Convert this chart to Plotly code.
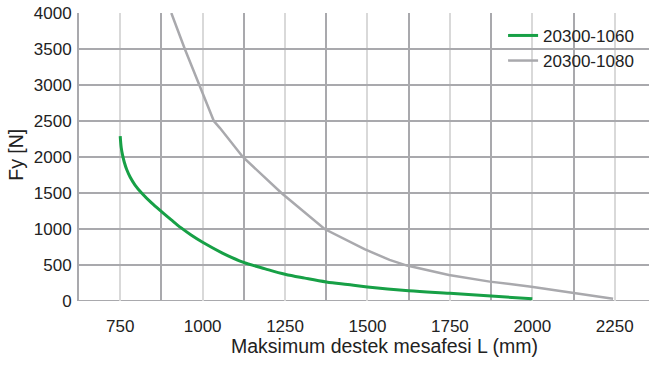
import plotly.graph_objects as go

# Series 20300-1060 (green)
l_1060 = [750, 753, 757, 762, 770, 780, 795, 815, 845, 877, 905, 935, 965, 1000, 1060, 1122, 1190, 1250, 1310, 1375, 1440, 1500, 1625, 1750, 1875, 2000]
fy_1060 = [2290, 2133, 2029, 1934, 1822, 1722, 1610, 1500, 1362, 1235, 1127, 1015, 916, 815, 666, 540, 447, 372, 318, 265, 228, 195, 143, 107, 70, 30]

# Series 20300-1080 (gray)
l_1080 = [905, 946, 990, 1034, 1052, 1122, 1239, 1370, 1491, 1567, 1620, 1747, 1871, 1997, 2121, 2245]
fy_1080 = [4000, 3500, 3000, 2500, 2405, 2000, 1500, 1000, 720, 571, 492, 362, 269, 199, 116, 32]

series_names = ["20300-1060", "20300-1080"]
x_ticks = [750, 1000, 1250, 1500, 1750, 2000, 2250]
x_minor = [875, 1125, 1375, 1625, 1875, 2125]
y_ticks = [0, 500, 1000, 1500, 2000, 2500, 3000, 3500, 4000]
x_title = "Maksimum destek mesafesi L (mm)"
y_title = "Fy [N]"

GREEN = "#17a046"
GRAY = "#a9a9ad"
DARK_GRID = "#a9a9ad"
LIGHT_GRID = "#d9d9d9"
FONT = "Liberation Sans"
TXT = "#222222"

fig = go.Figure()
fig.add_trace(go.Scatter(x=l_1060, y=fy_1060, mode="lines", name=series_names[0],
                         line=dict(color=GREEN, width=3, shape="spline", smoothing=1.0)))
fig.add_trace(go.Scatter(x=l_1080, y=fy_1080, mode="lines", name=series_names[1],
                         line=dict(color=GRAY, width=2.5)))

fig.update_layout(
    width=649, height=369,
    margin=dict(l=79, r=0, t=13, b=68, autoexpand=False),
    paper_bgcolor="white", plot_bgcolor="white",
    font=dict(family=FONT, size=17, color=TXT),
    showlegend=True,
    legend=dict(x=0.744, y=0.983, xanchor="left", yanchor="top",
                bgcolor="rgba(0,0,0,0)", font=dict(size=17, family=FONT),
                itemwidth=30, tracegroupgap=0),
    xaxis=dict(
        range=[625, 2354], tickvals=x_ticks, ticktext=[str(v) for v in x_ticks],
        showgrid=True, gridcolor=LIGHT_GRID, gridwidth=2,
        minor=dict(tickvals=x_minor, showgrid=True, gridcolor=DARK_GRID, gridwidth=2),
        showline=False, zeroline=False, ticks="", ticklabelstandoff=13,
        automargin=False,
        tickfont=dict(size=17, family=FONT),
    ),
    yaxis=dict(
        range=[0, 4000], tickvals=y_ticks, ticktext=[str(v) for v in y_ticks],
        showgrid=True, gridcolor=DARK_GRID, gridwidth=2,
        showline=True, linecolor=DARK_GRID, linewidth=2, mirror=False,
        zeroline=False, ticks="", ticklabelstandoff=2,
        ticklabeloverflow="allow",
        automargin=False,
        tickfont=dict(size=17, family=FONT),
    ),
    annotations=[
        dict(text=x_title, xref="paper", yref="paper", x=0.536, y=0, yshift=-45,
             xanchor="center", yanchor="middle", showarrow=False,
             font=dict(family=FONT, size=19.5, color=TXT)),
        dict(text=y_title, xref="paper", yref="paper", x=-0.111, y=0.507,
             xanchor="center", yanchor="middle", showarrow=False, textangle=-90,
             font=dict(family=FONT, size=19.5, color=TXT)),
    ],
)

fig.add_shape(type="line", xref="paper", yref="y", x0=0, x1=1, y0=0, y1=0,
              line=dict(color=DARK_GRID, width=2), layer="below")

fig.write_html("out.html", config={"displayModeBar": False},
               post_script="document.body.style.margin='0';")
